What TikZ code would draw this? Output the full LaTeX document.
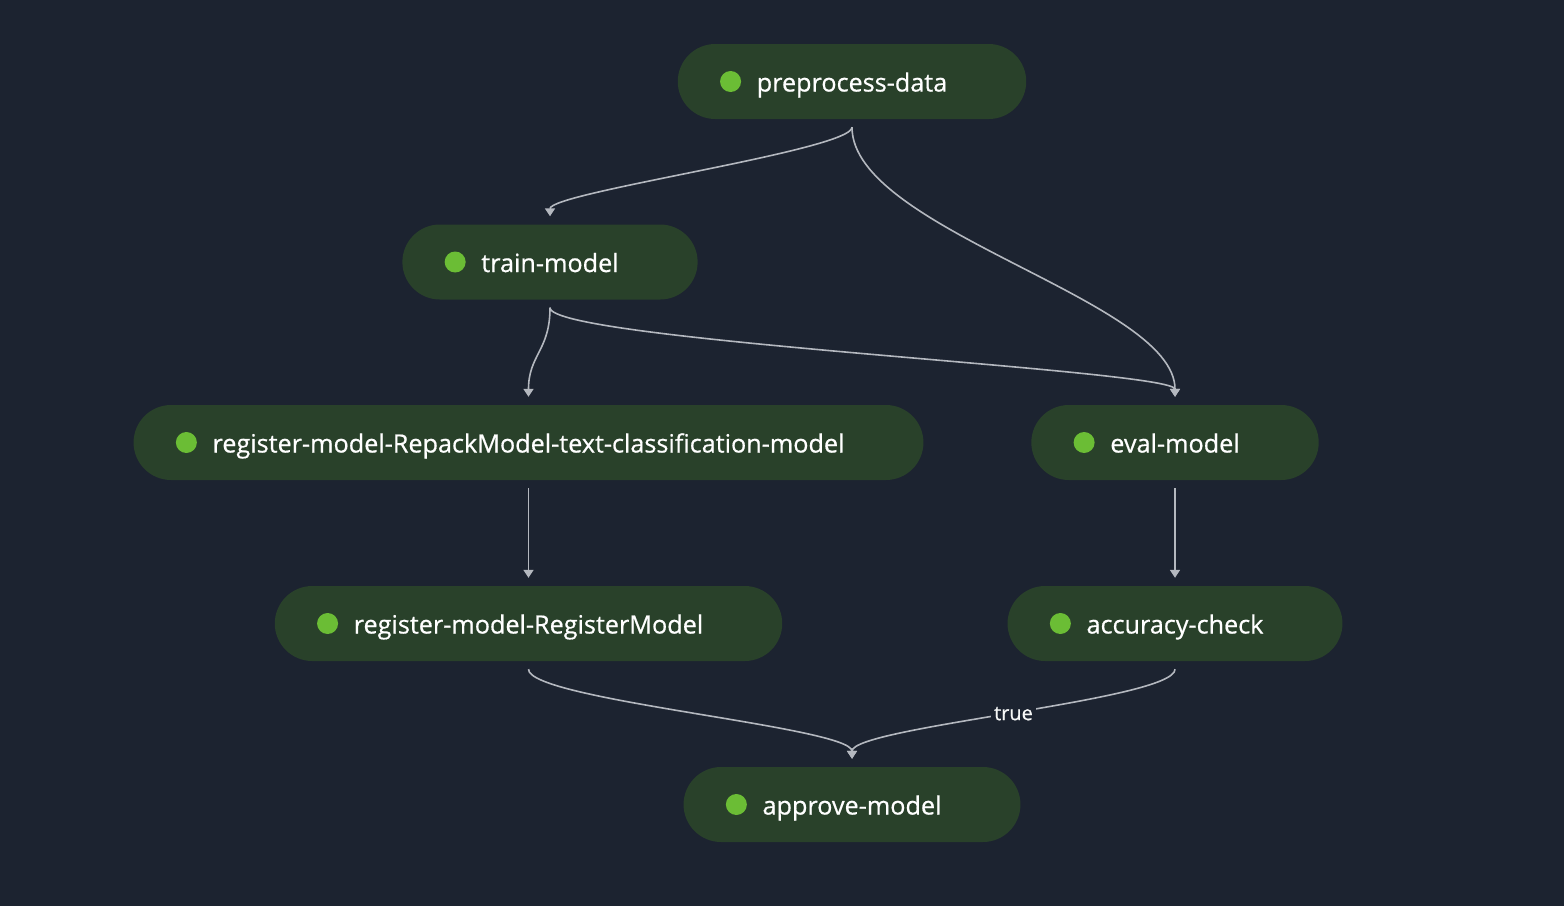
\documentclass[tikz,border=0pt]{standalone}
\usepackage{fontspec}
\setmainfont{Open Sans}
\newfontfamily\stepfont{Open Sans}[FakeBold=0.6]
\usetikzlibrary{arrows.meta}
\definecolor{bgdark}{HTML}{1C2330}
\definecolor{stepfill}{HTML}{29412A}
\definecolor{dotgreen}{HTML}{6BBD35}
\definecolor{linkgray}{HTML}{B4B8BF}

\begin{document}
\begin{tikzpicture}[x=1pt, y=-1pt,
	stepnode/.style={fill=stepfill, rounded corners=37.5pt, minimum height=75pt, inner xsep=79pt, text=white, font=\stepfont\fontsize{25.2}{29}\selectfont, text height=24pt, text depth=4pt},
	link/.style={draw=linkgray, line width=1.6pt, -{Triangle[length=8pt,width=10pt]}, shorten <=8pt, shorten >=8pt}]
	\fill[bgdark] (0,0) rectangle (1564,906);
	\useasboundingbox (0,0) rectangle (1564,906);
	\node[stepnode] (pre) at (852,81.5) {preprocess-data};
	\node[stepnode] (train) at (550,262) {train-model};
	\node[stepnode] (repack) at (528.5,442.5) {register-model-RepackModel-text-classification-model};
	\node[stepnode] (eval) at (1175,442.5) {eval-model};
	\node[stepnode] (register) at (528.5,623.5) {register-model-RegisterModel};
	\node[stepnode] (acc) at (1175,623.5) {accuracy-check};
	\node[stepnode] (approve) at (852,804.5) {approve-model};
	\foreach \n in {pre,train,repack,eval,register,acc,approve}
		\fill[dotgreen] ([xshift=53pt]\n.west) circle (10.5);
	\draw[link] (pre.south) .. controls +(0,31) and +(0,-32) .. (train.north);
	\draw[link] (pre.south) .. controls +(0,111) and +(0,-105) .. (eval.north);
	\draw[link] (train.south) .. controls +(0,51) and +(0,-50) .. (repack.north);
	\draw[link] (train.south) .. controls +(0,41) and +(0,-35) .. (eval.north);
	\draw[link] (repack.south) -- (register.north);
	\draw[link] (eval.south) -- (acc.north);
	\draw[link] (register.south) .. controls +(0,39) and +(0,-40) .. (approve.north);
	\draw[link] (acc.south) .. controls +(0,39) and +(0,-40) .. node[pos=0.5, fill=bgdark, text=white!88!linkgray, inner sep=3pt, font=\stepfont\fontsize{20}{24}\selectfont] (truelabel) {true} (approve.north);
\end{tikzpicture}
\end{document}
